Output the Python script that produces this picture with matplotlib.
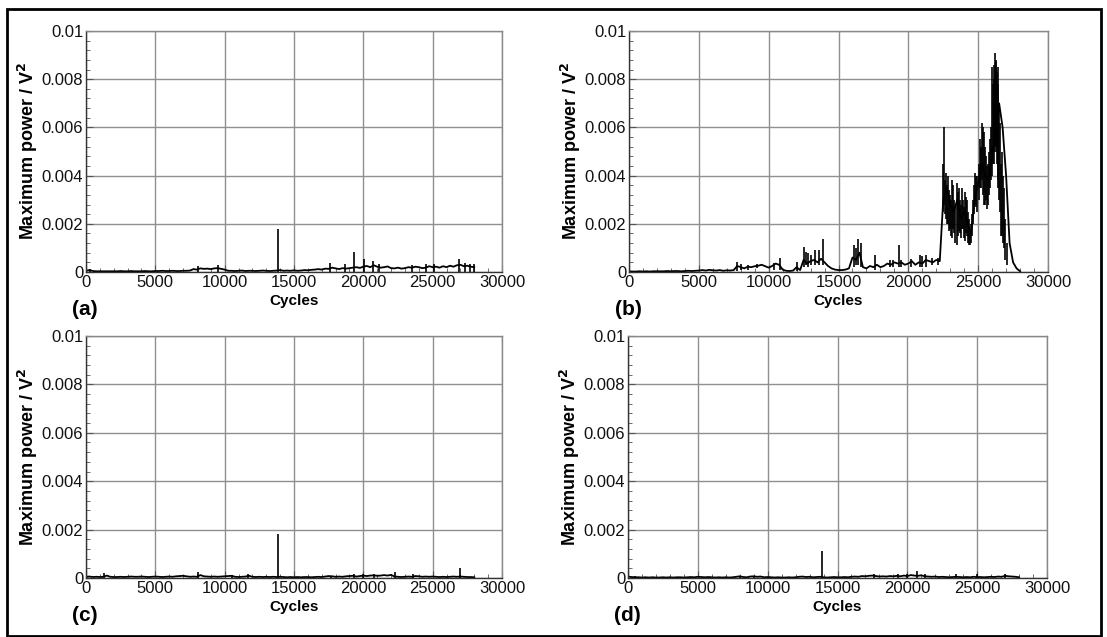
import numpy as np
import matplotlib
matplotlib.use('Agg')
import matplotlib.pyplot as plt
from matplotlib.ticker import MultipleLocator, AutoMinorLocator
from matplotlib.patches import Rectangle

plt.rcParams['font.family'] = ['Liberation Sans', 'DejaVu Sans']

# Cycle grid for the baseline traces (every 250 cycles, 0..28000)
cycles = np.arange(0, 28001, 250)

# Baseline traces, units of 1e-4 V^2
base_a = [0.5, 0.8, 0.4, 0.3, 0.3, 0.3, 0.3, 0.3, 0.3,
          0.3, 0.4, 0.3, 0.3, 0.4, 0.3, 0.3, 0.3, 0.4, 0.3, 0.3, 0.4,
          0.4, 0.5, 0.4, 0.4, 0.5, 0.4, 0.4, 0.5, 0.5, 0.6,
          1.2, 1.0, 1.5, 1.3, 1.4, 1.2, 1.5, 1.6, 1.3, 1.0,
          0.5, 0.5, 0.4, 0.5, 0.6, 0.4, 0.5, 0.5, 0.4, 0.5, 0.6, 0.5, 0.4, 0.5,
          0.6, 0.8, 0.5, 0.6, 0.5, 0.7, 0.5, 0.6, 0.8, 0.7, 0.9, 1.0,
          1.2, 1.0, 1.4, 1.3, 1.8, 1.5, 1.2, 1.6, 1.4, 1.6,
          1.8, 2.0, 1.7, 2.2, 2.5, 2.0, 2.8, 2.2, 1.8, 2.0, 2.3, 1.6,
          1.5, 1.8, 1.4, 1.6, 2.0, 1.8, 2.2, 2.0, 1.6, 1.8, 2.4, 2.0,
          2.2, 1.8, 2.4, 2.0, 2.6, 2.2, 2.8, 3.0, 2.4, 2.6, 2.2, 2.0]

base_b = [0.3, 0.2, 0.2, 0.3, 0.2, 0.3, 0.2, 0.3, 0.3,
          0.3, 0.3, 0.4, 0.3, 0.4, 0.4, 0.3, 0.4, 0.5, 0.4, 0.5, 0.6,
          0.8, 0.6, 0.9, 0.7, 0.6, 0.8, 0.5, 0.7, 0.6, 0.8,
          2.5, 2.0, 1.5, 2.2, 2.0, 2.4, 2.6, 3.0, 2.4, 1.8,
          2.5, 3.5, 3.0, 1.0, 0.5, 0.4, 0.6, 2.0, 0.8, 5.0, 3.5, 4.5, 5.0, 4.0,
          5.5, 4.0, 2.5, 1.5, 1.0, 0.8, 0.8, 1.0, 1.5, 6.0, 5.0, 8.0,
          2.0, 1.5, 2.5, 2.0, 3.0, 2.0, 2.5, 3.5, 3.0, 4.0,
          3.5, 4.0, 3.0, 3.5, 4.5, 3.0, 4.0, 3.5, 5.0, 4.5, 4.0, 5.0,
          4.5, 30.0, 35.0, 28.0, 25.0, 30.0, 22.0, 25.0, 20.0, 16.0, 30.0, 37.0,
          45.0, 40.0, 38.0, 50.0, 55.0, 70.0, 60.0, 40.0, 12.0, 4.0, 1.5, 0.3]

base_c = [0.5, 0.6, 0.4, 0.5, 0.4, 0.5, 1.0, 0.5, 0.4,
          0.4, 0.5, 0.4, 0.5, 0.6, 0.5, 0.5, 0.6, 0.5, 0.4, 0.5, 0.6,
          0.5, 0.4, 0.5, 0.6, 0.5, 0.7, 0.8, 0.9, 0.7, 0.5,
          0.6, 0.5, 1.2, 0.7, 0.6, 0.5, 0.6, 0.5, 0.6, 0.7,
          0.8, 0.9, 0.5, 0.4, 0.5, 0.6, 0.9, 0.5, 0.4, 0.5, 0.4, 0.5, 0.4, 0.5,
          0.4, 0.5, 0.4, 0.3, 0.4, 0.3, 0.4, 0.3, 0.4, 0.4, 0.3, 0.4,
          0.5, 0.4, 0.6, 0.8, 0.7, 0.5, 0.6, 0.5, 0.7, 0.8,
          0.9, 0.6, 0.8, 1.0, 0.8, 1.0, 1.1, 0.9, 1.0, 1.2, 1.0, 1.3,
          0.6, 0.5, 0.4, 0.5, 0.6, 0.5, 0.8, 0.7, 0.5, 0.6, 0.5, 0.6,
          0.5, 0.4, 0.5, 0.4, 0.5, 0.6, 0.5, 0.6, 0.5, 0.4, 0.4, 0.3]

base_d = [0.6, 0.4, 0.3, 0.3, 0.2, 0.3, 0.2, 0.3, 0.2,
          0.2, 0.3, 0.2, 0.3, 0.2, 0.3, 0.3, 0.2, 0.3, 0.4, 0.3, 0.5,
          0.4, 0.3, 0.4, 0.3, 0.2, 0.3, 0.2, 0.3, 0.2, 0.3,
          0.5, 0.7, 0.4, 0.3, 0.6, 0.7, 0.5, 0.6, 0.3, 0.4,
          0.3, 0.2, 0.3, 0.2, 0.2, 0.3, 0.2, 0.3, 0.5, 0.6, 0.4, 0.5, 0.3, 0.4,
          0.5, 0.3, 0.2, 0.3, 0.4, 0.3, 0.3, 0.4, 0.3, 0.5, 0.6, 0.5,
          0.8, 0.7, 0.9, 1.0, 0.8, 0.6, 0.7, 0.6, 0.8, 0.7,
          0.9, 0.7, 1.0, 0.8, 1.2, 1.0, 0.9, 1.1, 0.7, 0.6, 0.5, 0.6,
          0.4, 0.5, 0.4, 0.3, 0.4, 0.5, 0.4, 0.3, 0.4, 0.3, 0.5, 0.4,
          0.4, 0.3, 0.4, 0.5, 0.4, 0.6, 0.5, 0.9, 0.7, 0.6, 0.5, 0.3]

# Narrow spikes: cycle, low, high (units of 1e-4 V^2)
spike_x_a = [300, 8100, 9500, 13850, 17600, 18700, 19300, 20050, 20700, 21100,
             23500, 24500, 25100, 26900, 27300, 27700, 27950]
spike_lo_a = [0] * len(spike_x_a)
spike_hi_a = [1.3, 2.6, 2.8, 17.8, 3.6, 3.2, 8.2, 5.6, 4.6, 3.5,
              2.8, 3.3, 3.2, 5.2, 3.8, 3.5, 3.5]

spike_x_b = [7700, 8000, 8500, 9200, 10400, 10800, 12000, 12550, 12700, 12800,
             13050, 13300, 13600, 13900, 16100, 16250, 16400, 16600, 17600, 18700,
             18900, 19300, 19500, 20200, 20800, 21000, 21300, 21700, 22100,
             22475, 22550, 22625, 22700, 22775, 22850, 22925, 23000, 23075, 23150,
             23225, 23300, 23375, 23450, 23525, 23600, 23675, 23750, 23825, 23900,
             23975, 24050, 24125, 24200, 24275, 24350, 24425, 24500, 24575, 24650,
             24725, 24800, 24875, 24950, 25025, 25100, 25175, 25250, 25325, 25400,
             25475, 25550, 25625, 25700, 25775, 25850, 25925, 26000, 26050, 26100,
             26150, 26200, 26250, 26300, 26350, 26400, 26450, 26500, 26575, 26650,
             26725, 26800, 26875, 26950, 27050]
spike_lo_b = [0.5, 1, 1, 1.5, 1, 1, 0.3, 2, 3, 2,
              3, 3, 3, 3, 2, 3, 3, 2, 1, 2,
              2, 2, 2, 2, 2, 2, 2, 3, 3,
              25, 28, 24, 22, 20, 20, 17, 18, 15, 14,
              18, 16, 12, 11, 15, 17, 16, 14, 18, 18,
              14, 13, 16, 15, 12, 11, 11, 12, 15, 20,
              24, 28, 27, 25, 30, 35, 35, 38, 32, 28,
              28, 30, 26, 28, 32, 35, 38, 40, 45, 45,
              50, 55, 52, 50, 45, 38, 35, 30, 25, 15,
              15, 12, 10, 5, 3]
spike_hi_b = [4, 3.5, 3, 3.2, 3.8, 6, 4, 10.5, 8.5, 8,
              7, 9, 9, 13.5, 11, 10, 13.5, 12, 7, 5,
              5, 11, 5, 5.5, 7, 6.5, 7, 6, 6,
              45, 60, 38, 41, 36, 40, 34, 32, 30, 38,
              36, 30, 28, 37, 33, 35, 30, 28, 35, 30,
              27, 33, 31, 30, 25, 22, 18, 20, 24, 30,
              36, 41, 40, 40, 45, 55, 52, 62, 60, 58,
              52, 48, 44, 45, 50, 55, 60, 85, 78, 80,
              86, 91, 88, 87, 83, 85, 78, 70, 62, 45,
              50, 40, 35, 22, 12]

spike_x_c = [1300, 8100, 10500, 11700, 13850, 17700, 19300, 20000, 20800,
             22300, 23600, 27000]
spike_lo_c = [0] * len(spike_x_c)
spike_hi_c = [2.0, 2.5, 1.2, 1.5, 18.0, 1.0, 1.5, 1.8, 1.5, 2.5, 1.5, 4.3]

spike_x_d = [500, 8000, 9000, 13900, 17600, 19300, 20000, 20700, 21300,
             23500, 25000, 27000]
spike_lo_d = [0] * len(spike_x_d)
spike_hi_d = [1.0, 0.8, 0.8, 11.0, 1.5, 1.8, 1.5, 2.8, 1.5, 1.7, 1.5, 1.5]

panels = [
    ('(a)', base_a, spike_x_a, spike_lo_a, spike_hi_a, [86, 31, 502, 272]),
    ('(b)', base_b, spike_x_b, spike_lo_b, spike_hi_b, [629, 31, 1048, 272]),
    ('(c)', base_c, spike_x_c, spike_lo_c, spike_hi_c, [86, 336, 502, 578]),
    ('(d)', base_d, spike_x_d, spike_lo_d, spike_hi_d, [628, 336, 1047, 578]),
]

W, H = 1107, 637
fig = plt.figure(figsize=(W / 100, H / 100), dpi=100)

# outer frame around the figure
fig.patches.append(Rectangle((7 / W, 1 - 636 / H), (1101 - 7) / W, (636 - 9) / H,
                             transform=fig.transFigure, fill=False,
                             edgecolor='black', linewidth=2))

for tag, base, sx, slo, shi, box in panels:
    x0, y0, x1, y1 = box
    ax = fig.add_axes([x0 / W, 1 - y1 / H, (x1 - x0) / W, (y1 - y0) / H])
    ax.plot(cycles, np.array(base) * 1e-4, color='black', lw=1.3)
    ax.vlines(sx, np.array(slo) * 1e-4, np.array(shi) * 1e-4, color='black', lw=1.2)

    ax.set_xlim(0, 30000)
    ax.set_ylim(0, 0.01)
    ax.xaxis.set_major_locator(MultipleLocator(5000))
    ax.xaxis.set_minor_locator(AutoMinorLocator(5))
    ax.yaxis.set_minor_locator(AutoMinorLocator(5))
    ax.set_yticks([0, 0.002, 0.004, 0.006, 0.008, 0.01])
    ax.set_yticklabels(['0', '0.002', '0.004', '0.006', '0.008', '0.01'])
    ax.grid(True, which='major', color='#8f8f8f', lw=1.0)
    ax.set_axisbelow(True)
    ax.tick_params(which='both', direction='in', top=False, right=False,
                   labelsize=12, pad=2, color='#555555', labelcolor='#111111')
    ax.tick_params(which='major', length=5)
    ax.tick_params(which='minor', length=3)
    for s in ax.spines.values():
        s.set_color('#888888')
        s.set_linewidth(1.0)
    ax.spines['left'].set_color('#333333')
    ax.spines['bottom'].set_color('#333333')

    ax.set_xlabel('Cycles', fontsize=11, fontweight='bold', labelpad=3)
    ax.set_ylabel('Maximum power / V$^\\mathbf{2}$', fontsize=13, fontweight='bold',
                  labelpad=1)
    ax.text(-0.033, -0.155, tag, transform=ax.transAxes, fontsize=15,
            fontweight='bold', ha='left', va='center')

fig.savefig('out.png', dpi=100)
